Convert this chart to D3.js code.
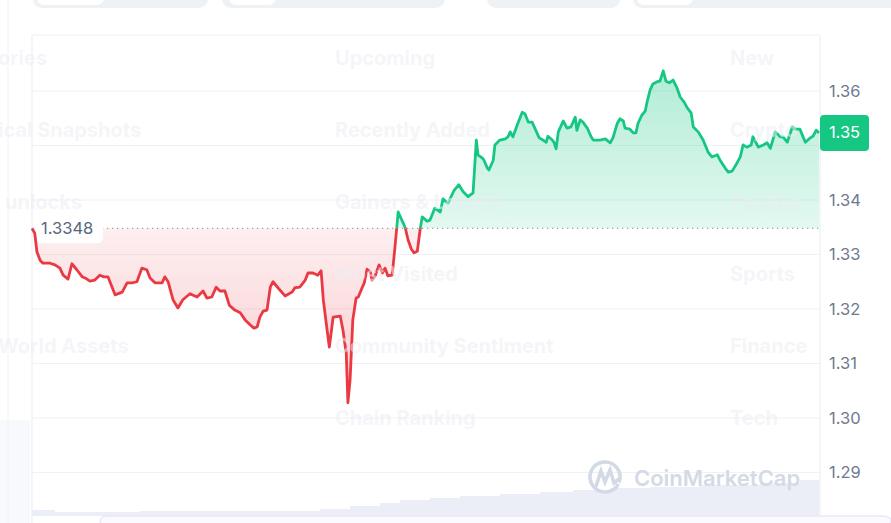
<!DOCTYPE html>
<html><head><meta charset="utf-8">
<script src="https://cdn.jsdelivr.net/npm/d3@7"></script>
<style>body{margin:0;background:#fff;overflow:hidden} svg{display:block;font-family:Inter,"Noto Sans",sans-serif}</style>
</head><body><svg id="c" width="891" height="523"></svg>
<script>
// time in minutes over the 24h window
const minutes = [0,5,9,15,20,33,42,51,57,66,73,82,92,97,106,115,124,132,139,152,165,174,183,192,201,210,216,225,238,243,249,258,267,276,289,302,313,320,329,337,344,353,361,371,381,390,399,406,412,417,423,430,436,441,450,463,476,481,490,500,505,514,523,529,533,540,544,551,564,569,575,578,582,587,593,597,604,608,613,619,622,628,635,641,646,651,659,664,670,679,683,688,694,699,705,710,714,723,728,737,747,752,761,772,781,789,798,807,813,816,824,827,833,836,844,847,856,866,871,875,880,888,897,902,908,915,920,928,935,941,944,952,955,959,963,972,979,986,994,997,1003,1008,1016,1023,1027,1039,1049,1058,1063,1071,1076,1082,1085,1094,1100,1105,1109,1116,1122,1125,1131,1136,1144,1149,1155,1160,1166,1173,1180,1186,1193,1199,1206,1210,1219,1228,1237,1244,1254,1259,1268,1274,1281,1290,1296,1301,1308,1316,1319,1329,1338,1345,1351,1360,1369,1374,1382,1391,1396,1405,1415,1424,1429,1435,1440];
const prices = [1.3348,1.3339,1.3305,1.3289,1.3284,1.3284,1.3281,1.3275,1.3262,1.3255,1.3283,1.3272,1.3259,1.3257,1.3251,1.3253,1.3262,1.3259,1.3259,1.3226,1.3231,1.3248,1.3248,1.3250,1.3275,1.3272,1.3257,1.3248,1.3248,1.3259,1.3250,1.3217,1.3202,1.3217,1.3228,1.3222,1.3233,1.3220,1.3222,1.3240,1.3233,1.3233,1.3207,1.3198,1.3193,1.3180,1.3171,1.3165,1.3167,1.3185,1.3196,1.3198,1.3240,1.3250,1.3239,1.3224,1.3231,1.3239,1.3240,1.3253,1.3266,1.3266,1.3262,1.3270,1.3217,1.3161,1.3130,1.3185,1.3187,1.3161,1.3119,1.3028,1.3070,1.3180,1.3220,1.3222,1.3239,1.3248,1.3273,1.3268,1.3253,1.3261,1.3281,1.3266,1.3275,1.3261,1.3262,1.3312,1.3378,1.3358,1.3349,1.3327,1.3310,1.3303,1.3306,1.3345,1.3369,1.3361,1.3363,1.3385,1.3378,1.3402,1.3394,1.3417,1.3428,1.3415,1.3406,1.3413,1.3510,1.3483,1.3477,1.3473,1.3459,1.3455,1.3473,1.3501,1.3510,1.3512,1.3516,1.3525,1.3516,1.3538,1.3561,1.3558,1.3543,1.3543,1.3532,1.3514,1.3510,1.3506,1.3517,1.3510,1.3506,1.3494,1.3525,1.3545,1.3532,1.3534,1.3552,1.3528,1.3547,1.3543,1.3532,1.3516,1.3510,1.3510,1.3512,1.3505,1.3514,1.3541,1.3549,1.3545,1.3532,1.3530,1.3523,1.3523,1.3541,1.3556,1.3563,1.3578,1.3602,1.3613,1.3617,1.3618,1.3637,1.3618,1.3615,1.3620,1.3606,1.3589,1.3580,1.3569,1.3560,1.3534,1.3525,1.3510,1.3488,1.3479,1.3483,1.3473,1.3459,1.3451,1.3453,1.3468,1.3479,1.3501,1.3497,1.3501,1.3516,1.3497,1.3501,1.3505,1.3495,1.3525,1.3516,1.3516,1.3506,1.3534,1.3530,1.3530,1.3506,1.3514,1.3517,1.3528,1.3523];
const volMinutes = [0,42,198,527,582,637,673,728,783,856,930,990,1058,1131,1222,1332,1405,1440];
const volumes = [6,4,5,7,10,13,16,18,20,22,24,26,28,29,31,33,36,36];
const yTickValues = [1.29,1.30,1.31,1.32,1.33,1.34,1.35,1.36];
const openPrice = 1.3348;
const openLabel = "1.3348";
const lastPriceLabel = "1.35";
const menuLeft = ["ories","ical Snapshots","unlocks","","World Assets",""];
const menuMid = ["Upcoming","Recently Added","Gainers & Losers","Most Visited","Community Sentiment","Chain Ranking"];
const menuRight = ["New","Crypto","Politics","Sports","Finance","Tech"];

const svg = d3.select("#c");
const L = 32, R = 819, T = 35, B = 515;
const x = d3.scaleLinear().domain([0, 1440]).range([L, R]);
const y = d3.scaleLinear().domain([1.2822, 1.370275]).range([B, T]);
const vy = d3.scaleLinear().domain([0, 36]).range([516, 480]);
const green = "#16c784", red = "#ea3943";
const data = minutes.map((m, i) => ({m, p: prices[i]}));
const yOpen = y(openPrice);
const last = prices[prices.length-1];

const defs = svg.append("defs");
const gg = defs.append("linearGradient").attr("id","gG").attr("gradientUnits","userSpaceOnUse")
  .attr("x1",0).attr("x2",0).attr("y1",y(d3.max(prices))).attr("y2",yOpen);
gg.append("stop").attr("offset",0).attr("stop-color",green).attr("stop-opacity",0.33);
gg.append("stop").attr("offset",1).attr("stop-color",green).attr("stop-opacity",0.12);
const rg = defs.append("linearGradient").attr("id","rG").attr("gradientUnits","userSpaceOnUse")
  .attr("x1",0).attr("x2",0).attr("y1",yOpen).attr("y2",y(d3.min(prices)));
rg.append("stop").attr("offset",0).attr("stop-color",red).attr("stop-opacity",0.08);
rg.append("stop").attr("offset",1).attr("stop-color",red).attr("stop-opacity",0.26);
defs.append("clipPath").attr("id","above").append("rect").attr("x",0).attr("y",0).attr("width",891).attr("height",yOpen);
defs.append("clipPath").attr("id","below").append("rect").attr("x",0).attr("y",yOpen).attr("width",891).attr("height",523-yOpen);

// page decorations
svg.append("rect").attr("x",0).attr("y",420).attr("width",30).attr("height",103).attr("fill","#f8f9fc");
svg.append("line").attr("x1",8).attr("x2",8).attr("y1",0).attr("y2",523).attr("stroke","#f0f2f5");

// grid
svg.append("g").selectAll("line").data(yTickValues).join("line")
  .attr("x1",L).attr("x2",R).attr("y1",d=>y(d)).attr("y2",d=>y(d)).attr("stroke","#eff2f5").attr("stroke-width",1.2);
svg.append("line").attr("x1",L).attr("x2",R+1).attr("y1",T).attr("y2",T).attr("stroke","#eceff3").attr("stroke-width",1.2);
svg.append("line").attr("x1",L).attr("x2",L).attr("y1",T).attr("y2",523).attr("stroke","#eceff3").attr("stroke-width",1.2);
svg.append("line").attr("x1",R+1).attr("x2",R+1).attr("y1",T).attr("y2",523).attr("stroke","#eceff3").attr("stroke-width",1.2);

// volume
const vData = volMinutes.map((m,i)=>({m, v: volumes[i]}));
svg.append("path").datum(vData)
  .attr("d", d3.area().curve(d3.curveStepAfter).x(d=>x(d.m)).y0(516).y1(d=>vy(d.v)))
  .attr("fill","#ebeef6");
svg.append("rect").attr("x",100).attr("y",516).attr("width",791).attr("height",10).attr("rx",8)
  .attr("fill","#fbfaff").attr("stroke","#ece6fb").attr("stroke-width",1.5);

// watermark
const wm = svg.append("g").attr("fill","none").attr("stroke","#d4dae5").attr("stroke-width",3.6).attr("stroke-linecap","round");
wm.append("path").attr("d", d3.arc()({innerRadius:15,outerRadius:15,startAngle:-Math.PI*1.35,endAngle:Math.PI*0.62}))
  .attr("transform","translate(605,477)");
wm.append("path").attr("d","M596,486 L601,471 L605,482 L610,470 L614,483 L619,479");
svg.append("text").attr("x",634).attr("y",486).attr("font-size",22).attr("font-weight",600)
  .attr("fill","#d4dae5").text("CoinMarketCap");

// areas
const area = d3.area().x(d=>x(d.m)).y0(yOpen).y1(d=>y(d.p));
svg.append("path").datum(data).attr("d",area).attr("fill","url(#gG)").attr("clip-path","url(#above)");
svg.append("path").datum(data).attr("d",area).attr("fill","url(#rG)").attr("clip-path","url(#below)");

// open price dotted line and label
svg.append("line").attr("x1",L).attr("x2",R).attr("y1",yOpen).attr("y2",yOpen)
  .attr("stroke","#9aa3b5").attr("stroke-width",1.3).attr("stroke-dasharray","1.3,3.7");
svg.append("rect").attr("x",35).attr("y",yOpen-14).attr("width",68).attr("height",29).attr("rx",6).attr("fill","#fff");
svg.append("text").attr("x",41).attr("y",yOpen+1.5).attr("dominant-baseline","middle").attr("font-size",16.5)
  .attr("fill","#58667e").text(openLabel);

// price lines
const line = d3.line().x(d=>x(d.m)).y(d=>y(d.p)).curve(d3.curveLinear);
svg.append("path").datum(data).attr("d",line).attr("fill","none").attr("stroke",green).attr("stroke-width",2.8)
  .attr("stroke-linejoin","round").attr("clip-path","url(#above)");
svg.append("path").datum(data).attr("d",line).attr("fill","none").attr("stroke",red).attr("stroke-width",2.8)
  .attr("stroke-linejoin","round").attr("clip-path","url(#below)");

// y axis (the tick hidden under the last-price tag is not drawn)
const axis = d3.axisRight(y).tickValues(yTickValues.filter(v => Math.abs(y(v) - y(last)) > 20))
  .tickFormat(d3.format(".2f")).tickSize(0).tickPadding(10);
const ag = svg.append("g").attr("transform",`translate(${R},0)`).call(axis);
ag.select(".domain").remove();
ag.selectAll("text").attr("font-size",16.5).attr("fill","#6f7a8f").attr("font-family","Inter,'Noto Sans',sans-serif");

// last price tag
svg.append("rect").attr("x",R+1).attr("y",y(last)-18).attr("width",49).attr("height",36).attr("rx",4).attr("fill",green);
svg.append("text").attr("x",R+25.5).attr("y",y(last)+1).attr("text-anchor","middle").attr("dominant-baseline","middle")
  .attr("font-size",16.5).attr("fill","#fff").text(lastPriceLabel);

// faint menu overlay text
const rowsY = [60,132,204,276,348,420];
const mg = svg.append("g").attr("font-size",20).attr("font-weight",700).attr("fill","#eceef2").attr("fill-opacity",0.55)
  .attr("dominant-baseline","middle");
menuLeft.forEach((t,i)=>{ if(t) mg.append("text").attr("x", i===2?5:-2).attr("y",rowsY[i]).text(t); });
menuMid.forEach((t,i)=>mg.append("text").attr("x",335).attr("y",rowsY[i]).text(t));
menuRight.forEach((t,i)=>mg.append("text").attr("x",730).attr("y",rowsY[i]).text(t));

// top tabs (cut off)
const tabs = [[33,208,37,104],[222,445,229,276],[487,620,null,null],[633,900,637,693]];
tabs.forEach(([a,b,c,d])=>{
  svg.append("rect").attr("x",a).attr("y",-20).attr("width",b-a).attr("height",28).attr("rx",9).attr("fill","#eff2f5");
  if(c!==null) svg.append("rect").attr("x",c).attr("y",-20).attr("width",d-c).attr("height",25).attr("rx",7).attr("fill","#fff");
});
</script></body></html>
